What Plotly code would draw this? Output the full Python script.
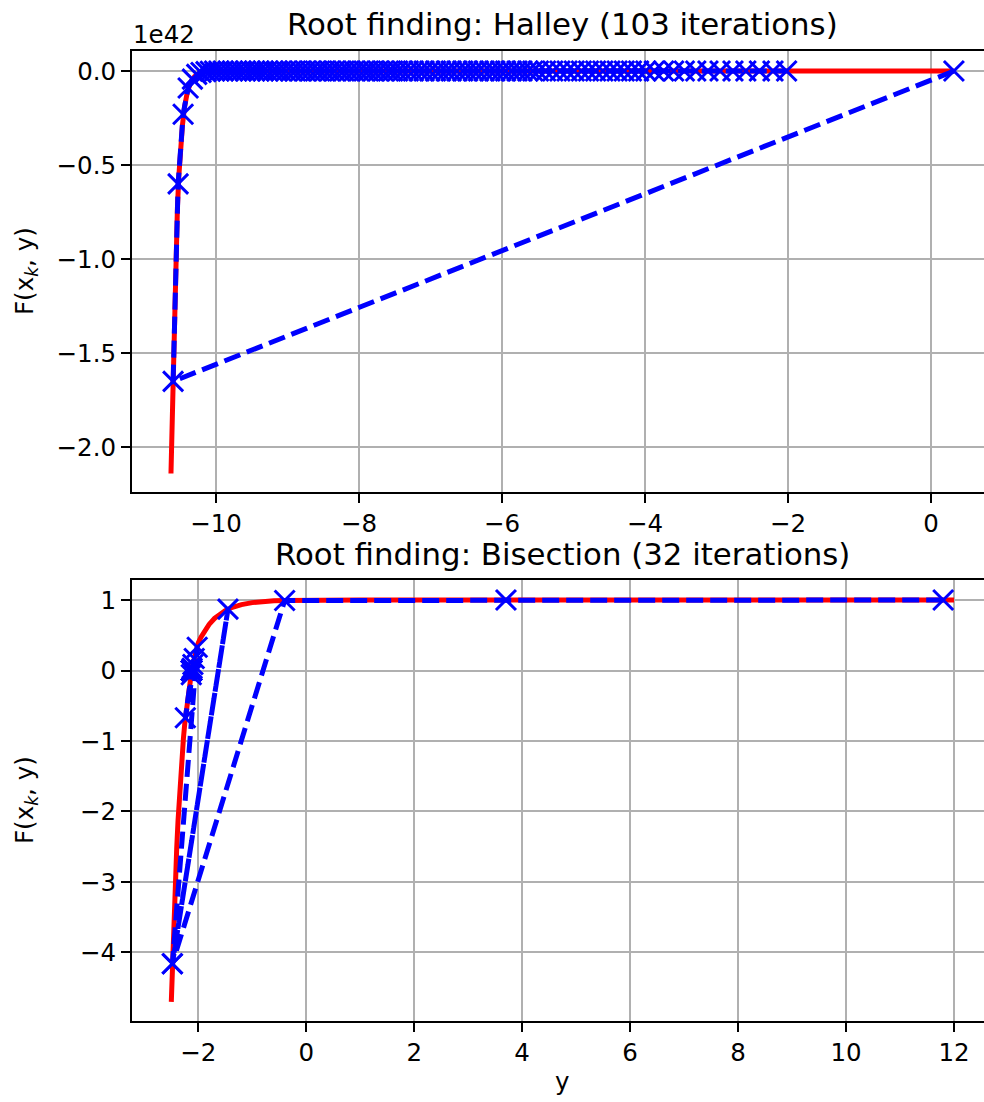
import plotly.graph_objects as go

# ---------------- data (F values of the top panel are in units of 1e42) -------------
halley_curve_y = [-10.63, -10.615, -10.60, -10.58, -10.56, -10.54, -10.52, -10.50, -10.47,
                  -10.44, -10.40, -10.35, -10.30, -10.24, -10.16, -10.05, -9.80, -8.0,
                  -6.0, -4.0, -2.0, 0.32]
halley_curve_F = [-2.14, -1.88, -1.65, -1.25, -0.96, -0.73, -0.56, -0.43, -0.29,
                  -0.19, -0.11, -0.057, -0.029, -0.013, -0.004, -0.001, 0.0, 0.0,
                  0.0, 0.0, 0.0, 0.0]

halley_iter_y = [0.32, -10.60, -10.53, -10.46, -10.39,
                 -10.33, -10.27, -10.21, -10.14, -10.08, -10.02, -9.96, -9.90, -9.83, -9.77,
                 -9.71, -9.65, -9.59, -9.52, -9.46, -9.40, -9.34, -9.28, -9.21, -9.15, -9.09,
                 -9.02, -8.95, -8.89, -8.82, -8.75, -8.68, -8.61, -8.55, -8.48, -8.41,
                 -8.34, -8.27, -8.21, -8.14, -8.07, -8.00, -7.93, -7.87, -7.80, -7.73,
                 -7.66, -7.59, -7.53, -7.46, -7.39,
                 -7.31, -7.24, -7.16, -7.09, -7.01, -6.93, -6.86, -6.78, -6.71, -6.63,
                 -6.55, -6.48, -6.40, -6.33, -6.25, -6.17, -6.10, -6.02, -5.95, -5.87,
                 -5.79, -5.72, -5.64, -5.57, -5.49,
                 -5.39, -5.29, -5.19, -5.09, -4.99, -4.89, -4.79, -4.69, -4.59, -4.49,
                 -4.39, -4.29, -4.19, -4.09, -3.99,
                 -3.87, -3.74, -3.60, -3.45, -3.29, -3.12, -2.95, -2.77, -2.59, -2.40,
                 -2.21, -2.02]
halley_iter_F = [0.0, -1.65, -0.60, -0.23, -0.09,
                 -0.043, -0.018, -0.008, -0.003, -0.001] + [0.0] * 93

bisect_curve_y = [-2.50, -2.48, -2.45, -2.425, -2.40, -2.375, -2.35, -2.325, -2.30, -2.275,
                  -2.25, -2.225, -2.20, -2.175, -2.15, -2.125, -2.10, -2.05, -2.00, -1.95,
                  -1.90, -1.80, -1.70, -1.60, -1.50, -1.40, -1.20, -1.00, -0.80, -0.60,
                  -0.40, 0.0, 0.5, 1.0, 2.0, 4.0, 8.0, 12.0]
bisect_curve_F = [-4.70, -4.16, -3.48, -2.97, -2.53, -2.13, -1.77, -1.47, -1.20, -0.96,
                  -0.75, -0.57, -0.40, -0.26, -0.13, -0.015, 0.086, 0.255, 0.393, 0.473,
                  0.542, 0.654, 0.738, 0.802, 0.850, 0.887, 0.935, 0.963, 0.979, 0.988,
                  0.993, 0.998, 0.9995, 0.9999, 1.0, 1.0, 1.0, 1.0]

bisect_iter_y = [11.8, 3.7, -0.4, -2.48, -1.45, -2.48, -2.02, -2.24, -2.13, -2.075, -2.10,
                 -2.115, -2.122, -2.126, -2.124, -2.125, -2.1245, -2.1247, -2.1247,
                 -2.1247, -2.1247, -2.1247, -2.1247, -2.1247, -2.1247, -2.1247,
                 -2.1247, -2.1247, -2.1247, -2.1247, -2.1247, -2.1247]
bisect_iter_F = [1.0, 1.0, 0.993, -4.16, 0.87, -4.16, 0.33, -0.67, -0.06, 0.17, 0.086,
                 0.03, 0.008, -0.005, 0.0, 0.0, 0.0, 0.0, 0.0, 0.0, 0.0, 0.0, 0.0,
                 0.0, 0.0, 0.0, 0.0, 0.0, 0.0, 0.0, 0.0, 0.0]

top_title = "Root finding: Halley (103 iterations)"
bottom_title = "Root finding: Bisection (32 iterations)"
y_label = "F(x<sub><i>k</i></sub>, y)"
x_label = "y"
offset_text = "1e42"

# ---------------- figure ----------------
W, H = 984, 1102
FONT = "DejaVu Sans"
RED = "#ff0000"
BLUE = "#0000ff"

fig = go.Figure()

line_red = dict(color=RED, width=5)
line_blue = dict(color=BLUE, width=5, dash="17px,7px")
marker_blue = dict(symbol="x-thin", size=20, color=BLUE, line=dict(color=BLUE, width=3))

fig.add_trace(go.Scatter(x=halley_curve_y, y=halley_curve_F, mode="lines", line=line_red,
                         xaxis="x", yaxis="y", showlegend=False))
fig.add_trace(go.Scatter(x=halley_iter_y, y=halley_iter_F, mode="lines+markers",
                         line=line_blue, marker=marker_blue,
                         xaxis="x", yaxis="y", showlegend=False))
fig.add_trace(go.Scatter(x=bisect_curve_y, y=bisect_curve_F, mode="lines", line=line_red,
                         xaxis="x2", yaxis="y2", showlegend=False))
fig.add_trace(go.Scatter(x=bisect_iter_y, y=bisect_iter_F, mode="lines+markers",
                         line=line_blue, marker=marker_blue,
                         xaxis="x2", yaxis="y2", showlegend=False))

def px_x(p):
    return p / W

def px_y(p):
    return 1 - p / H

x_dom = [px_x(132), 1.0]
top_dom = [px_y(491.7), px_y(51)]
bot_dom = [px_y(1020.7), px_y(580)]

tickfont = dict(family=FONT, size=24.5, color="black")
common_axis = dict(showline=True, linecolor="black", linewidth=2, ticks="outside",
                   ticklen=9, tickwidth=2, tickcolor="black", showgrid=True,
                   gridcolor="#b0b0b0", gridwidth=2, zeroline=False, tickfont=tickfont)

fig.update_layout(
    width=W, height=H,
    margin=dict(l=0, r=0, t=0, b=0),
    paper_bgcolor="white", plot_bgcolor="white",
    font=dict(family=FONT, color="black"),
    xaxis=dict(domain=x_dom, anchor="y", range=[-11.175, 0.741], tickmode="linear",
               tick0=0, dtick=2, mirror=True, **common_axis),
    yaxis=dict(domain=top_dom, anchor="x", range=[-2.2365, 0.1065], tickmode="linear",
               tick0=0, dtick=0.5, tickformat=".1f", **common_axis),
    xaxis2=dict(domain=x_dom, anchor="y2", range=[-3.228, 12.556], tickmode="linear",
                tick0=0, dtick=2, mirror=True, **common_axis),
    yaxis2=dict(domain=bot_dom, anchor="x2", range=[-4.968, 1.284], tickmode="linear",
                tick0=0, dtick=1, **common_axis),
)

annots = [
    dict(text=top_title, x=px_x(562.5), y=px_y(24), font=dict(size=30.8)),
    dict(text=bottom_title, x=px_x(562.5), y=px_y(554), font=dict(size=30.8)),
    dict(text=offset_text, x=px_x(131), y=px_y(34), xanchor="left", font=dict(size=24.5)),
    dict(text=y_label, x=px_x(26), y=px_y(271), textangle=-90, font=dict(size=24.5)),
    dict(text=y_label, x=px_x(26), y=px_y(800), textangle=-90, font=dict(size=24.5)),
    dict(text=x_label, x=px_x(562.5), y=px_y(1081), font=dict(size=24.5)),
]
for a in annots:
    base = dict(xref="paper", yref="paper", showarrow=False, xanchor="center",
                yanchor="middle")
    base.update(a)
    base["font"] = dict(family=FONT, color="black", **a["font"])
    fig.add_annotation(**base)

fig.write_html("out.html")
